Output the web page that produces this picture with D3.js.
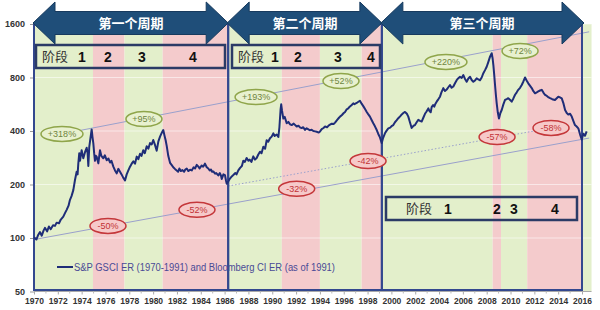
<!DOCTYPE html>
<html><head><meta charset="utf-8">
<script src="https://cdn.jsdelivr.net/npm/d3@7"></script>
<style>
html,body{margin:0;padding:0;background:#fff;}
svg{display:block;}
text{font-family:"Liberation Sans","DejaVu Sans",sans-serif;}
.cjk{font-family:"Noto Sans CJK SC","Noto Sans",sans-serif;}
</style></head>
<body>
<svg id="chart" width="600" height="310"></svg>
<script>
// ---------- data ----------
const years = [1970.0,1970.2,1970.35,1970.5,1970.65,1970.8,1970.92,1971.1,1971.25,1971.4,1971.6,1971.76,1971.9,1972.1,1972.25,1972.46,1972.6,1972.74,1972.9,1973.02,1973.15,1973.3,1973.44,1973.58,1973.66,1973.72,1973.8,1973.86,1974.0,1974.07,1974.14,1974.28,1974.42,1974.5,1974.56,1974.64,1974.75,1974.84,1974.91,1974.98,1975.05,1975.12,1975.2,1975.26,1975.4,1975.54,1975.65,1975.82,1975.95,1976.1,1976.25,1976.38,1976.5,1976.66,1976.8,1976.94,1977.08,1977.22,1977.35,1977.5,1977.64,1977.78,1977.92,1978.06,1978.2,1978.34,1978.48,1978.62,1978.76,1978.9,1979.03,1979.17,1979.3,1979.46,1979.6,1979.74,1979.88,1980.01,1980.15,1980.3,1980.44,1980.58,1980.72,1980.85,1980.95,1981.05,1981.14,1981.27,1981.42,1981.55,1981.69,1981.85,1981.98,1982.1,1982.2,1982.32,1982.45,1982.6,1982.7,1982.82,1982.95,1983.1,1983.24,1983.4,1983.52,1983.66,1983.8,1983.9,1984.08,1984.2,1984.35,1984.5,1984.63,1984.75,1984.85,1984.95,1985.05,1985.2,1985.3,1985.47,1985.6,1985.7,1985.76,1985.9,1986.03,1986.12,1986.18,1986.3,1986.45,1986.6,1986.73,1986.9,1987.0,1987.15,1987.3,1987.45,1987.57,1987.7,1987.85,1988.0,1988.1,1988.25,1988.41,1988.55,1988.69,1988.83,1988.97,1989.1,1989.25,1989.4,1989.53,1989.66,1989.81,1989.95,1990.09,1990.2,1990.37,1990.51,1990.6,1990.7,1990.75,1990.82,1990.93,1991.05,1991.21,1991.35,1991.5,1991.63,1991.8,1992.05,1992.2,1992.35,1992.47,1992.6,1992.75,1992.89,1993.0,1993.15,1993.31,1993.45,1993.6,1993.73,1993.9,1994.01,1994.15,1994.3,1994.43,1994.6,1994.75,1994.85,1995.0,1995.15,1995.27,1995.45,1995.6,1995.69,1995.85,1996.0,1996.11,1996.25,1996.38,1996.5,1996.67,1996.8,1996.9,1997.09,1997.2,1997.36,1997.5,1997.64,1997.8,1997.93,1998.05,1998.2,1998.35,1998.48,1998.62,1998.77,1998.9,1999.04,1999.19,1999.3,1999.46,1999.6,1999.74,1999.9,2000.05,2000.16,2000.3,2000.45,2000.58,2000.75,2000.87,2001.0,2001.14,2001.3,2001.42,2001.55,2001.7,2001.85,2001.98,2002.12,2002.26,2002.4,2002.54,2002.68,2002.82,2002.95,2003.1,2003.2,2003.3,2003.38,2003.5,2003.6,2003.7,2003.8,2003.95,2004.08,2004.2,2004.36,2004.5,2004.64,2004.78,2004.92,2005.05,2005.2,2005.35,2005.48,2005.6,2005.76,2005.9,2006.04,2006.18,2006.32,2006.46,2006.6,2006.74,2006.88,2007.02,2007.16,2007.3,2007.44,2007.58,2007.72,2007.86,2008.0,2008.14,2008.28,2008.42,2008.5,2008.56,2008.63,2008.7,2008.77,2008.84,2008.93,2009.03,2009.1,2009.15,2009.26,2009.4,2009.54,2009.68,2009.81,2009.95,2010.1,2010.24,2010.38,2010.52,2010.65,2010.8,2010.94,2011.08,2011.22,2011.35,2011.49,2011.63,2011.78,2011.92,2012.06,2012.2,2012.33,2012.48,2012.62,2012.76,2012.9,2013.05,2013.2,2013.32,2013.5,2013.73,2013.88,2014.01,2014.15,2014.3,2014.45,2014.58,2014.72,2014.85,2015.0,2015.14,2015.28,2015.41,2015.55,2015.69,2015.85,2015.98,2016.11,2016.25,2016.39];
const values = [101,98,104,108,103,110,114,109,116,112,118,117,122,121,127,132,138,144,152,164,172,186,212,236,228,263,300,272,312,295,281,304,322,300,254,326,370,408,370,341,300,272,290,287,263,312,290,281,292,274,280,266,272,252,240,231,245,236,228,218,211,228,240,252,262,270,262,287,278,298,290,312,300,328,318,342,336,356,335,310,350,372,390,405,378,355,330,290,265,258,250,244,240,236,246,238,241,236,243,246,238,242,240,250,246,258,252,246,256,252,262,250,246,240,243,236,237,230,232,225,232,224,215,228,226,210,202,208,216,222,226,232,228,240,248,254,272,268,282,272,276,268,288,276,282,295,306,300,326,318,355,348,364,372,388,375,382,370,420,530,565,520,470,480,442,450,436,432,440,424,428,418,416,420,406,414,410,404,406,400,398,396,392,398,410,416,424,420,430,434,440,438,446,462,475,482,492,505,512,530,536,548,560,572,566,575,582,592,570,552,530,512,498,482,460,442,425,405,385,368,342,365,388,402,414,418,428,432,448,460,472,485,496,505,512,500,482,450,416,428,432,448,462,456,452,475,500,515,536,518,510,545,560,548,570,585,605,624,660,697,672,684,705,726,700,712,745,773,790,808,795,826,785,757,790,808,775,757,770,792,780,772,800,846,880,920,980,1048,1095,1020,940,830,726,640,572,510,470,490,505,525,565,598,605,612,600,585,610,640,660,682,700,726,760,800,770,742,720,698,670,652,660,668,676,682,658,638,630,618,612,604,598,612,624,618,610,570,525,505,495,500,482,455,432,424,414,380,358,386,376,398];

// phases (background bands)
const bandStart = [1970,1974.95,1977.6,1980.8,1986.3,1990.8,1994.0,1997.5,1999.2,2008.5,2009.2,2011.4,2016.0];
const bandEnd   = [1974.95,1977.6,1980.8,1986.3,1990.8,1994.0,1997.5,1999.2,2008.5,2009.2,2011.4,2016.0,2016.8];
const bandType  = ["up","down","up","down","up","down","up","down","up","down","up","down","up"];

// cycles
const cycleNames = ["第一个周期","第二个周期","第三个周期"];
const cycleStart = [1970,1986.3,1999.2];
const cycleEnd   = [1986.3,1999.2,2016.0];

// ticks
const yTicks = [50,100,200,400,800,1600];
const xTickYears = d3.range(1970,2017,2);

// percentage annotations
const annLabels = ["+318%","+95%","+193%","+52%","+220%","+72%","-50%","-52%","-32%","-42%","-57%","-58%"];
const annYears  = [1972.35,1979.23,1988.64,1995.77,2004.58,2010.8,1976.21,1983.68,1992.05,1998.04,2008.87,2013.4];
const annValues = [385,467,621,764,978,1128,117,144,189,271,370,416];

// trend lines [startYear,startValue,endYear,endValue]
const trendUpper  = [1972.35,385,2016.6,1446];
const trendLower  = [1970,98,2016.6,365];
const trendDotted = [1986.3,196,2013.4,416];

const legendLabel = "S&P GSCI ER (1970-1991) and Bloomberg CI ER (as of 1991)";
const phaseWord = "阶段";
const phaseNums = ["1","2","3","4"];

// ---------- drawing ----------
const svg = d3.select("#chart");
const x = d3.scaleLinear().domain([1970,2016]).range([34,582]);
const y = d3.scaleLog().domain([50,1600]).range([291.5,24]);
const yTop = y(1600), yBot = y(50);

const GREEN = "#e3efcb", PINK = "#f4cbcc";
const NAVY = "#1f2d78", BOX = "#33488f";

// bands
svg.append("g").selectAll("rect").data(bandStart).join("rect")
  .attr("x",(d,i)=>x(d)).attr("width",(d,i)=>x(bandEnd[i])-x(d))
  .attr("y",yTop).attr("height",yBot-yTop)
  .attr("fill",(d,i)=>bandType[i]==="up"?GREEN:PINK);

// faint gridlines
svg.append("g").selectAll("line").data(yTicks.slice(1)).join("line")
  .attr("x1",34).attr("x2",x(2016.8)).attr("y1",d=>y(d)).attr("y2",d=>y(d))
  .attr("stroke","#ffffff").attr("stroke-opacity",0.55).attr("stroke-width",1);

// axes
const yAxis = d3.axisLeft(y).tickValues(yTicks).tickFormat(d3.format("d")).tickSize(4).tickPadding(5);
const gy = svg.append("g").attr("transform","translate(34,0)").call(yAxis);
gy.select(".domain").remove();
gy.selectAll(".tick line").attr("stroke","#999");
gy.selectAll("text").attr("font-size",9).attr("font-weight","bold").attr("fill","#333");

const xAxis = d3.axisBottom(x).tickValues(xTickYears).tickFormat(d3.format("d")).tickSize(3).tickPadding(3);
const gx = svg.append("g").attr("transform",`translate(0,${yBot})`).call(xAxis);
gx.select(".domain").attr("d",`M34,0H${x(2016.8)}`).attr("stroke","#aaa");
gx.selectAll(".tick line").attr("stroke","#aaa");
gx.selectAll("text").attr("font-size",8.5).attr("font-weight","bold").attr("fill","#333");
svg.append("g").selectAll("line").data(d3.range(1971,2017,2)).join("line")
  .attr("x1",d=>x(d)).attr("x2",d=>x(d)).attr("y1",yBot).attr("y2",yBot+2)
  .attr("stroke","#bbb");

// trend lines
function trend(t, dash){
  svg.append("line")
    .attr("x1",x(t[0])).attr("y1",y(t[1])).attr("x2",x(t[2])).attr("y2",y(t[3]))
    .attr("stroke","#9aa0cc").attr("stroke-width",1)
    .attr("stroke-dasharray",dash||null);
}
trend(trendUpper); trend(trendLower); trend(trendDotted,"1.5,2");

// cycle rectangles
svg.append("g").selectAll("rect").data(cycleStart).join("rect")
  .attr("x",(d)=>x(d)).attr("width",(d,i)=>x(cycleEnd[i])-x(d))
  .attr("y",yTop).attr("height",yBot-1.5-yTop)
  .attr("fill","none").attr("stroke",BOX).attr("stroke-width",2);

// data line
const pts = years.map((t,i)=>[t,values[i]]);
svg.append("path").datum(pts)
  .attr("d",d3.line().x(d=>x(d[0])).y(d=>y(d[1])))
  .attr("fill","none").attr("stroke",NAVY).attr("stroke-width",2).attr("stroke-linejoin","round");

// annotations
const ann = svg.append("g").selectAll("g").data(annLabels).join("g")
  .attr("transform",(d,i)=>`translate(${x(annYears[i])},${y(annValues[i])})`);
ann.append("ellipse")
  .attr("rx",d=>d.length>4?21:18).attr("ry",7.5)
  .attr("fill",d=>d[0]==="+"?"#e8f1cf":"#f6c9c9")
  .attr("stroke",d=>d[0]==="+"?"#8fa54a":"#c4373a").attr("stroke-width",1.5);
ann.append("text").text(d=>d)
  .attr("text-anchor","middle").attr("dy","0.35em").attr("font-size",9)
  .attr("fill",d=>d[0]==="+"?"#6f8540":"#c23236");

// phase label boxes
const boxes = [
  {x0:36,x1:225,y0:45,y1:68,word:55,nums:[82,108,142,193]},
  {x0:232,x1:380,y0:45,y1:68,word:251,nums:[275,298,338,371]},
  {x0:386,x1:577,y0:197,y1:220,word:419,nums:[448,497,514,555]}
];
boxes.forEach(b=>{
  const g = svg.append("g");
  g.append("rect").attr("x",b.x0).attr("y",b.y0).attr("width",b.x1-b.x0).attr("height",b.y1-b.y0)
    .attr("fill","none").attr("stroke","#2b3b66").attr("stroke-width",2.5);
  const cy = (b.y0+b.y1)/2;
  g.append("text").attr("class","cjk").text(phaseWord).attr("x",b.word).attr("y",cy)
    .attr("dy","0.36em").attr("text-anchor","middle").attr("font-size",13).attr("fill","#333");
  g.selectAll(".n").data(phaseNums).join("text").attr("class","n")
    .text(d=>d).attr("x",(d,i)=>b.nums[i]).attr("y",cy).attr("dy","0.36em")
    .attr("text-anchor","middle").attr("font-size",14).attr("font-weight","bold").attr("fill","#111");
});

// arrows
function arrowPath(x0,x1){
  const yc=23, hh=21, bh=11.5, hl=22;
  return `M${x0},${yc}L${x0+hl},${yc-hh}L${x0+hl},${yc-bh}L${x1-hl},${yc-bh}L${x1-hl},${yc-hh}L${x1},${yc}`+
         `L${x1-hl},${yc+hh}L${x1-hl},${yc+bh}L${x0+hl},${yc+bh}L${x0+hl},${yc+hh}Z`;
}
const arr = svg.append("g").selectAll("g").data(cycleNames).join("g");
arr.append("path").attr("d",(d,i)=>arrowPath(x(cycleStart[i])-1,x(cycleEnd[i])+(i===2?2:0)))
  .attr("fill","#1f4e79").attr("stroke","#173a5e").attr("stroke-width",1);
arr.append("text").attr("class","cjk").text(d=>d)
  .attr("x",(d,i)=>(x(cycleStart[i])+x(cycleEnd[i]))/2).attr("y",23).attr("dy","0.36em")
  .attr("text-anchor","middle").attr("font-size",13).attr("font-weight","bold").attr("fill","#fff");

// legend
svg.append("line").attr("x1",57).attr("x2",73).attr("y1",267).attr("y2",267)
  .attr("stroke",NAVY).attr("stroke-width",2);
svg.append("text").text(legendLabel).attr("x",74).attr("y",267).attr("dy","0.35em")
  .attr("font-size",10).attr("fill","#4a4a96")
  .attr("textLength",261).attr("lengthAdjust","spacingAndGlyphs");
</script>
</body></html>
